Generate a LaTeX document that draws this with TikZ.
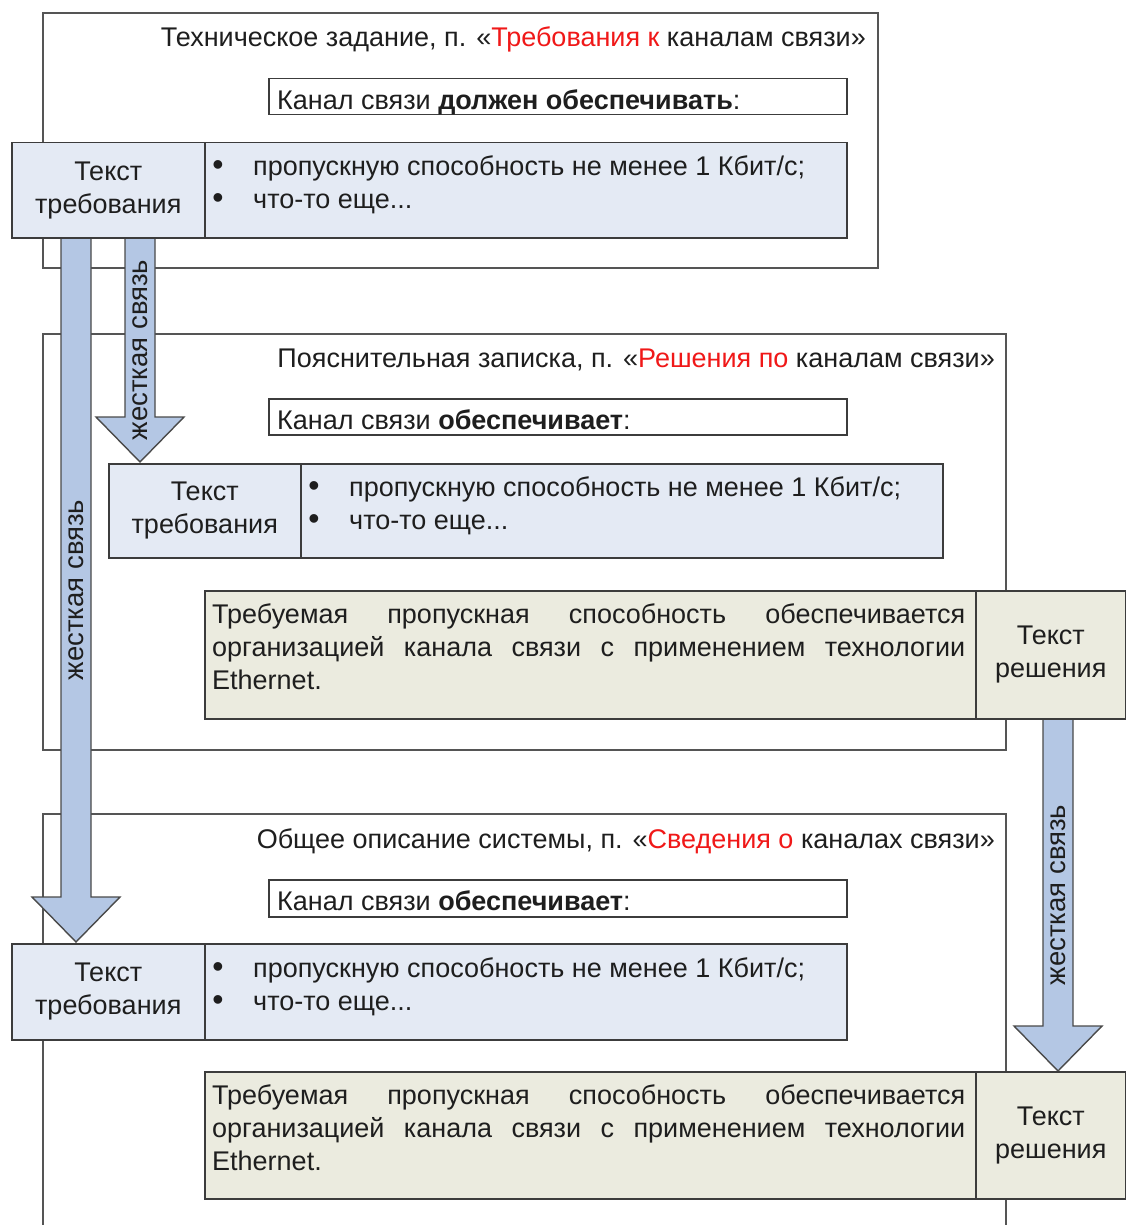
\documentclass[tikz,border=0pt]{standalone}
\usepackage{fontspec}
\setmainfont{Liberation Sans}
\usetikzlibrary{calc}
\definecolor{framec}{HTML}{555555}
\definecolor{boxc}{HTML}{3C3C3C}
\definecolor{reqfill}{HTML}{E4EAF4}
\definecolor{solfill}{HTML}{EBEBDF}
\definecolor{arrfill}{HTML}{B4C7E4}
\definecolor{arrline}{HTML}{4A4A4A}
\definecolor{redt}{HTML}{F01818}
\definecolor{txt}{HTML}{1E1E1E}
\newcommand\blockarrow[2]{%
  \draw[barrow] ($(#1)+(-15,0)$) -- ($(#2)+(-15,-45)$) -- ($(#2)+(-44,-45)$) -- (#2)
    -- ($(#2)+(44,-45)$) -- ($(#2)+(15,-45)$) -- ($(#1)+(15,0)$);}
\begin{document}
\begin{tikzpicture}[x=1pt,y=-1pt,
  font=\fontsize{27}{33}\selectfont, text=txt,
  frame/.style={draw=framec, line width=1.5pt},
  cell/.style={draw=boxc, line width=1.5pt, inner sep=0pt, anchor=north west, align=center},
  reqcell/.style={cell, fill=reqfill},
  solcell/.style={cell, fill=solfill},
  canal/.style={cell, fill=white, minimum width=578pt, minimum height=36pt},
  lbl/.style={inner sep=0pt, text height=19pt, text depth=5.5pt, yshift=-2.5pt},
  bul/.style={lbl, font=\fontsize{32}{33}\selectfont},
  barrow/.style={draw=arrline, fill=arrfill, line width=1.4pt, line join=miter},
  arrlbl/.style={inner sep=0pt, rotate=90, font=\fontsize{27.5}{30}\selectfont}]
\useasboundingbox (0,0) rectangle (1125,1225);
\fill[white] (0,0) rectangle (1125,1225);

% frames
\draw[frame] (43,13) rectangle (878,268);
\draw[frame] (43,334) rectangle (1006,750);
\draw[frame] (43,1226) -- (43,814) -- (1006,814) -- (1006,1226);

% frame titles
\node[lbl, anchor=east] (t1) at (866,37) {Техническое задание, п. «\textcolor{redt}{Требования к} каналам связи»};
\node[lbl, anchor=east] (t2) at (995,358) {Пояснительная записка, п. «\textcolor{redt}{Решения по} каналам связи»};
\node[lbl, anchor=east] (t3) at (995,839) {Общее описание системы, п. «\textcolor{redt}{Сведения о} каналах связи»};

% arrow anchor coordinates
\coordinate (a1s) at (76,237);
\coordinate (a1e) at (76,942);
\coordinate (a2s) at (140,237);
\coordinate (a2e) at (140,462);
\coordinate (a3s) at (1058,718);
\coordinate (a3e) at (1058,1071);

\blockarrow{a1s}{a1e}
\blockarrow{a2s}{a2e}
\blockarrow{a3s}{a3e}
\node[arrlbl] (l1) at (76,590) {жесткая связь};
\node[arrlbl] (l2) at (140,350) {жесткая связь};
\node[arrlbl] (l3) at (1058,895) {жесткая связь};

% section 1
\node[canal] (c1) at (268,78) {};
\node[lbl, anchor=west] (c1t) at (277,100) {Канал связи \textbf{должен обеспечивать}:};
\node[reqcell, minimum width=193pt, minimum height=95pt] (r1l) at (11,142) {Текст\\требования};
\node[reqcell, minimum width=642pt, minimum height=95pt] (r1r) at (204,142) {};
\node[bul, anchor=center] (r1b1) at (218,166) {•};
\node[lbl, anchor=west] (r1x1) at (253,166) {пропускную способность не менее 1 Кбит/с;};
\node[bul, anchor=center] (r1b2) at (218,199) {•};
\node[lbl, anchor=west] (r1x2) at (253,199) {что-то еще...};

% section 2
\node[canal] (c2) at (268,398) {};
\node[lbl, anchor=west] (c2t) at (277,420) {Канал связи \textbf{обеспечивает}:};
\node[reqcell, minimum width=192pt, minimum height=94pt] (r2l) at (108,463) {Текст\\требования};
\node[reqcell, minimum width=642pt, minimum height=94pt] (r2r) at (300,463) {};
\node[bul, anchor=center] (r2b1) at (314,487) {•};
\node[lbl, anchor=west] (r2x1) at (349,487) {пропускную способность не менее 1 Кбит/с;};
\node[bul, anchor=center] (r2b2) at (314,520) {•};
\node[lbl, anchor=west] (r2x2) at (349,520) {что-то еще...};

\node[solcell, minimum width=771pt, minimum height=128pt] (s1l) at (204,590) {};
\node[solcell, minimum width=150pt, minimum height=128pt] (s1r) at (975,590) {Текст\\решения};
\node[inner sep=0pt, anchor=north west, align=left] (s1t) at (212,603)
  {\makebox[753pt][s]{Требуемая пропускная способность обеспечивается}\\
   \makebox[753pt][s]{организацией канала связи с применением технологии}\\
   Ethernet.};

% section 3
\node[canal, minimum height=37pt] (c3) at (268,879) {};
\node[lbl, anchor=west] (c3t) at (277,901) {Канал связи \textbf{обеспечивает}:};
\node[reqcell, minimum width=193pt, minimum height=96pt] (r3l) at (11,943) {Текст\\требования};
\node[reqcell, minimum width=642pt, minimum height=96pt] (r3r) at (204,943) {};
\node[bul, anchor=center] (r3b1) at (218,968) {•};
\node[lbl, anchor=west] (r3x1) at (253,968) {пропускную способность не менее 1 Кбит/с;};
\node[bul, anchor=center] (r3b2) at (218,1001) {•};
\node[lbl, anchor=west] (r3x2) at (253,1001) {что-то еще...};

\node[solcell, minimum width=771pt, minimum height=127pt] (s2l) at (204,1071) {};
\node[solcell, minimum width=150pt, minimum height=127pt] (s2r) at (975,1071) {Текст\\решения};
\node[inner sep=0pt, anchor=north west, align=left] (s2t) at (212,1084)
  {\makebox[753pt][s]{Требуемая пропускная способность обеспечивается}\\
   \makebox[753pt][s]{организацией канала связи с применением технологии}\\
   Ethernet.};
\end{tikzpicture}
\end{document}
